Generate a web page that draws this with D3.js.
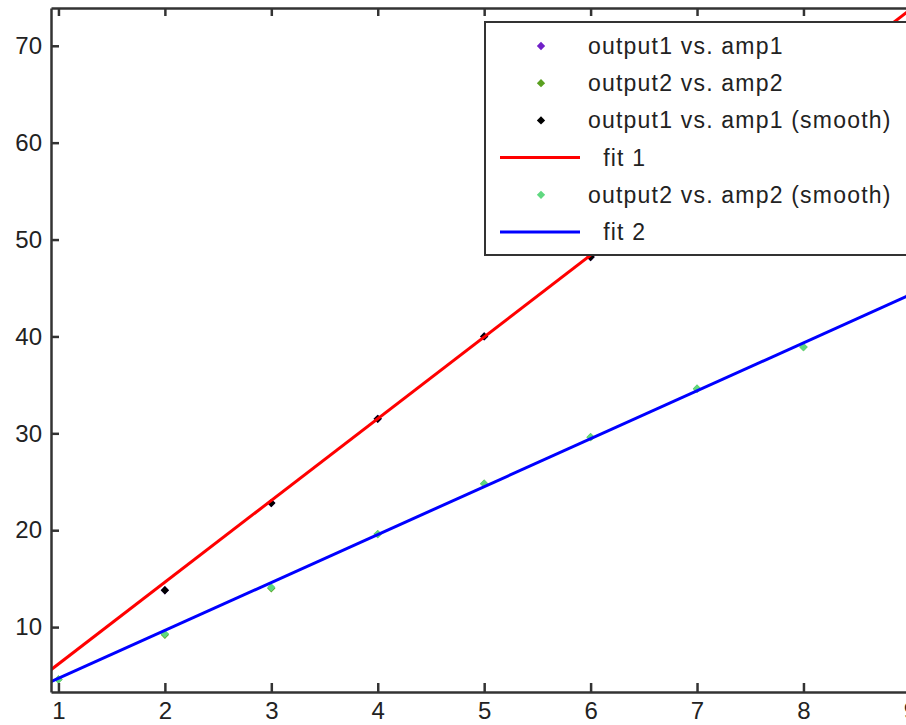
<!DOCTYPE html>
<html lang="en">
<head>
  <meta charset="utf-8">
  <title>output vs. amp</title>
  <script src="https://cdn.jsdelivr.net/npm/d3@7"></script>
</head>
<style>
  body { margin: 0; background: #fff; }
  text { font-family: "Liberation Sans", Arial, sans-serif; }
</style>
<body>
  <svg id="chart" width="906" height="725"></svg>

  <script type="text/javascript">
    // data
    var amp1 = [2, 3, 4, 5, 6, 7, 8, 9];
    var output1 = [13.8, 22.8, 31.5, 40.0, 48.2, 56.8, 65.4, 73.8];
    var output1Smooth = [13.8, 22.8, 31.5, 40.0, 48.2, 56.8, 65.4, 73.8];
    var amp2 = [1, 2, 3, 4, 5, 6, 7, 8, 9];
    var output2 = [4.6, 9.2, 14.0, 19.6, 24.8, 29.6, 34.6, 38.9, 44.3];
    var output2Smooth = [4.6, 9.3, 14.1, 19.6, 24.8, 29.6, 34.6, 38.9, 44.3];
    // linear fits y = a*x + b
    var fit1 = { a: 8.44, b: -2.25 };
    var fit2 = { a: 4.947, b: -0.24 };
    var xTicks = [1, 2, 3, 4, 5, 6, 7, 8, 9];
    var yTicks = [10, 20, 30, 40, 50, 60, 70];

    var svg = d3.select("#chart");
    var xMin = 0.93, xMax = 9.1;
    var x = d3.scaleLinear().domain([xMin, xMax]).range([51, 51 + (xMax - xMin) * 106.43]);
    var y = d3.scaleLinear().domain([3.3, 73.9]).range([692, 8]);

    var axisColor = "#333";

    svg.append("defs").append("clipPath").attr("id", "clip")
      .append("rect").attr("x", 51).attr("y", 8).attr("width", 900).attr("height", 684);

    var plot = svg.append("g").attr("clip-path", "url(#clip)");

    // diamond markers
    var diamond = d3.symbol().type(d3.symbolDiamond2).size(44);
    function drawPoints(xs, ys, color) {
      plot.append("g").selectAll("path")
        .data(xs.map(function (d, i) { return [d, ys[i]]; }))
        .enter().append("path")
        .attr("d", diamond)
        .attr("fill", color)
        .attr("transform", function (d) { return "translate(" + x(d[0]) + "," + y(d[1]) + ")"; });
    }

    drawPoints(amp1, output1, "#7020c8");
    drawPoints(amp2, output2, "#5aa020");
    drawPoints(amp1, output1Smooth, "#000");

    var line = d3.line().x(function (d) { return x(d[0]); }).y(function (d) { return y(d[1]); });
    plot.append("path")
      .datum([[xMin, fit1.a * xMin + fit1.b], [xMax, fit1.a * xMax + fit1.b]])
      .attr("d", line).attr("stroke", "#ff0000").attr("stroke-width", 3).attr("fill", "none");

    drawPoints(amp2, output2Smooth, "#60d880");

    plot.append("path")
      .datum([[xMin, fit2.a * xMin + fit2.b], [xMax, fit2.a * xMax + fit2.b]])
      .attr("d", line).attr("stroke", "#0000ff").attr("stroke-width", 3).attr("fill", "none");

    // axes (ticks point inward)
    var axisBottomG = svg.append("g").attr("transform", "translate(0,692)")
      .call(d3.axisBottom(x).tickValues(xTicks).tickSizeInner(-9).tickSizeOuter(0).tickPadding(10));
    var axisTopG = svg.append("g").attr("transform", "translate(0,8)")
      .call(d3.axisTop(x).tickValues(xTicks).tickSizeInner(-8).tickSizeOuter(0).tickFormat(""));
    var axisLeftG = svg.append("g").attr("transform", "translate(51,0)")
      .call(d3.axisLeft(y).tickValues(yTicks).tickSizeInner(-8).tickSizeOuter(0).tickPadding(9));

    [axisBottomG, axisTopG, axisLeftG].forEach(function (g) {
      g.selectAll(".domain").attr("stroke", axisColor).attr("stroke-width", 2.5);
      g.selectAll(".tick line").attr("stroke", axisColor).attr("stroke-width", 2.5);
      g.selectAll(".tick text").attr("fill", "#222").style("font-size", "24px")
        .style("font-family", "'Liberation Sans', Arial, sans-serif");
    });

    // legend
    var legendItems = [
      { label: "output1 vs. amp1", type: "point", color: "#7020c8" },
      { label: "output2 vs. amp2", type: "point", color: "#5aa020" },
      { label: "output1 vs. amp1 (smooth)", type: "point", color: "#000" },
      { label: "  fit 1", type: "line", color: "#ff0000" },
      { label: "output2 vs. amp2 (smooth)", type: "point", color: "#60d880" },
      { label: "  fit 2", type: "line", color: "#0000ff" }
    ];
    var legend = svg.append("g");
    legend.append("rect")
      .attr("x", 485).attr("y", 22).attr("width", 440).attr("height", 233)
      .attr("fill", "#fff").attr("stroke", axisColor).attr("stroke-width", 2);
    var rows = legend.selectAll("g.item").data(legendItems).enter().append("g")
      .attr("class", "item")
      .attr("transform", function (d, i) { return "translate(0," + (46 + i * 37.2) + ")"; });
    rows.filter(function (d) { return d.type === "point"; }).append("path")
      .attr("d", diamond).attr("fill", function (d) { return d.color; })
      .attr("transform", "translate(541,0)");
    rows.filter(function (d) { return d.type === "line"; }).append("line")
      .attr("x1", 500).attr("x2", 580).attr("y1", 0).attr("y2", 0)
      .attr("stroke", function (d) { return d.color; }).attr("stroke-width", 3);
    rows.append("text")
      .attr("x", 588).attr("y", 0).attr("dy", "0.35em")
      .attr("fill", "#222").style("font-size", "23px").style("letter-spacing", "1.2px")
      .style("white-space", "pre")
      .text(function (d) { return d.label; });
  </script>
</body>
</html>
